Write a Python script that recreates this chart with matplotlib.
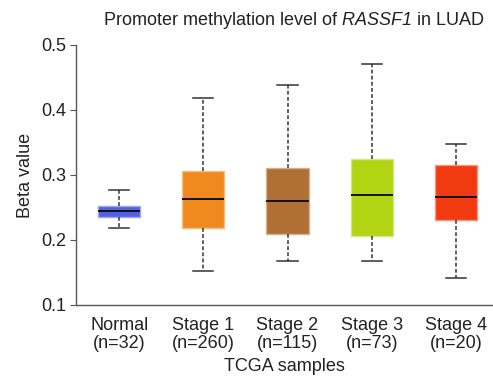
import matplotlib
matplotlib.use("Agg")
import matplotlib.pyplot as plt
from matplotlib.colors import to_rgb

plt.rcParams['font.family'] = ['Liberation Sans', 'DejaVu Sans']
plt.rcParams['mathtext.fontset'] = 'custom'
plt.rcParams['mathtext.it'] = 'Liberation Sans:italic'
plt.rcParams['mathtext.rm'] = 'Liberation Sans:italic'

categories = ["Normal\n(n=32)", "Stage 1\n(n=260)", "Stage 2\n(n=115)", "Stage 3\n(n=73)", "Stage 4\n(n=20)"]
whisker_low = [0.218, 0.153, 0.167, 0.167, 0.142]
q1 = [0.235, 0.2185, 0.209, 0.206, 0.231]
median = [0.2446, 0.2636, 0.260, 0.269, 0.2667]
q3 = [0.2528, 0.3057, 0.310, 0.324, 0.315]
whisker_high = [0.2765, 0.419, 0.438, 0.471, 0.348]
colors = ["#5060E0", "#F0891E", "#B07035", "#B2D412", "#F23A10"]

fig = plt.figure(figsize=(4.93, 3.79), dpi=100)
ax = fig.add_axes([0.1542, 0.1953, 0.8458, 0.686])

stats = []
for i in range(len(categories)):
    stats.append(dict(whislo=whisker_low[i], q1=q1[i], med=median[i], q3=q3[i],
                      whishi=whisker_high[i], fliers=[], label=categories[i]))

positions = list(range(1, len(categories) + 1))
bp = ax.bxp(stats, positions=positions, widths=0.5, patch_artist=True,
            showfliers=False,
            whiskerprops=dict(color="#333333", linestyle=(0, (2.5, 1.5)), linewidth=1.1),
            capprops=dict(color="#333333", linewidth=1.1),
            medianprops=dict(color="#111111", linewidth=1.4),
            capwidths=0.24)
for patch, c in zip(bp['boxes'], colors):
    r, g, b = to_rgb(c)
    light = (r + (1 - r) * 0.45, g + (1 - g) * 0.45, b + (1 - b) * 0.45)
    patch.set_facecolor(c)
    patch.set_edgecolor(light)
    patch.set_linewidth(1.0)

ax.set_xlim(0.488, 5.44)
ax.set_ylim(0.1, 0.5)
ax.set_yticks([0.1, 0.2, 0.3, 0.4, 0.5])
ax.set_yticklabels(["0.1", "0.2", "0.3", "0.4", "0.5"])
ax.set_xticks(positions)
ax.set_xticklabels(categories, linespacing=1.05)

for s in ['top', 'right']:
    ax.spines[s].set_visible(False)
for s in ['left', 'bottom']:
    ax.spines[s].set_color("#555555")
    ax.spines[s].set_linewidth(1.0)
ax.tick_params(axis='y', length=4, color="#555555", labelsize=13, labelcolor="#222222", pad=3)
ax.tick_params(axis='x', length=0, labelsize=13, labelcolor="#222222", pad=9)

ax.set_ylabel("Beta value", fontsize=13, color="#222222", labelpad=5)
ax.set_xlabel("TCGA samples", fontsize=13, color="#222222", labelpad=4)
fig.text(0.595, 0.945, "Promoter methylation level of $\\it{RASSF1}$ in LUAD",
         ha='center', va='center', fontsize=13, color="#222222")

fig.savefig("out.png", dpi=100)
